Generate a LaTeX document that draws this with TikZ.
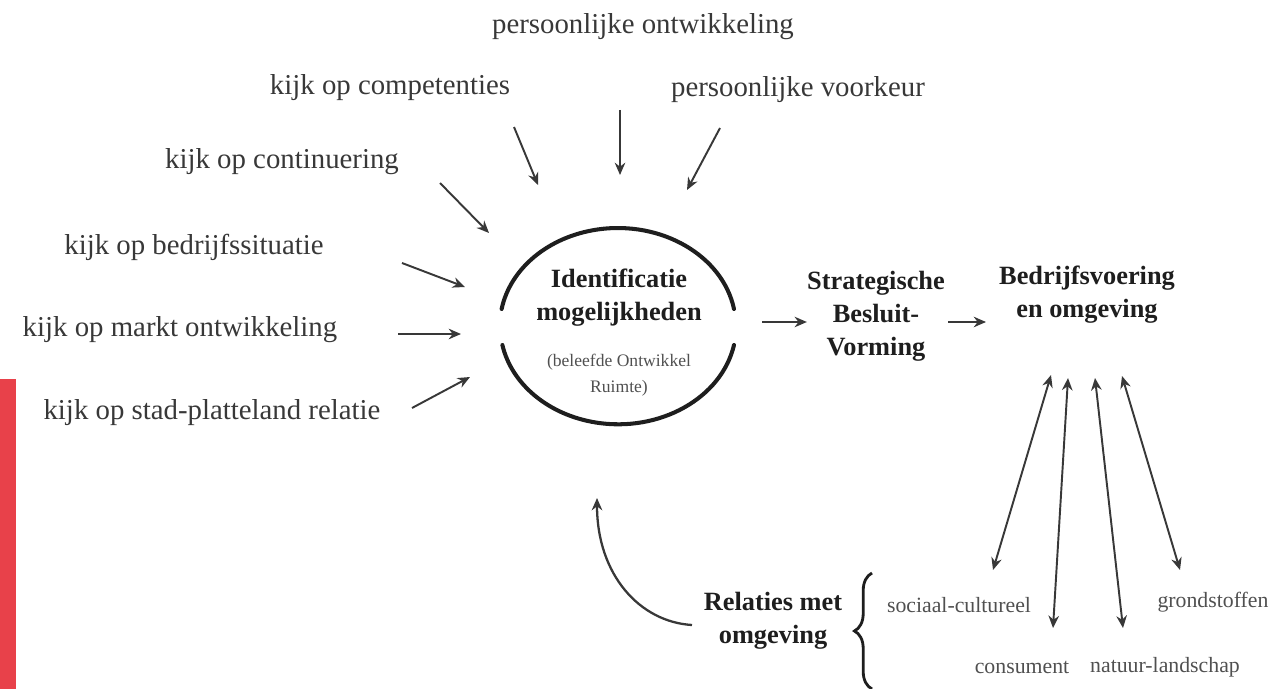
\documentclass[tikz,border=0pt]{standalone}
\usepackage{fontspec}
\setmainfont{Liberation Serif}
\usetikzlibrary{arrows.meta,decorations.pathreplacing}
\definecolor{barred}{HTML}{E8414A}
\definecolor{inkdark}{HTML}{1E1E1E}
\definecolor{inkgrey}{HTML}{383838}
\definecolor{inksoft}{HTML}{505050}
\tikzset{
  factor/.style={font=\fontsize{16.4}{19}\selectfont, text=inkgrey, inner sep=0pt},
  head/.style={font=\fontsize{15}{18.7}\selectfont\bfseries, text=inkdark, align=center, inner sep=0pt},
  aspect/.style={font=\fontsize{12.4}{15}\selectfont, text=inksoft, inner sep=0pt},
  smallnote/.style={font=\fontsize{10}{14.7}\selectfont, text=inksoft, align=center, inner sep=0pt},
  pointer/.style={-{Stealth[length=7pt,width=6pt]}, line width=1.1pt, draw=inkgrey},
  twoway/.style={{Stealth[length=7pt,width=6pt]}-{Stealth[length=7pt,width=6pt]}, line width=1.1pt, draw=inkgrey},
}
\begin{document}
\begin{tikzpicture}[x=0.02cm, y=-0.02cm]
\useasboundingbox (0,0) rectangle (1274,689);
\fill[barred] (0,379) rectangle (16,689);

% factors round the circle
\node[factor] (pers)  at (643,27)  {persoonlijke ontwikkeling};
\node[factor] (comp)  at (390,88)  {kijk op competenties};
\node[factor] (voork) at (798,90)  {persoonlijke voorkeur};
\node[factor] (cont)  at (282,162) {kijk op continuering};
\node[factor] (bedr)  at (194,247) {kijk op bedrijfssituatie};
\node[factor] (markt) at (180,330) {kijk op markt ontwikkeling};
\node[factor] (stad)  at (212,413) {kijk op stad-platteland relatie};

\coordinate (comp-a)  at (514,127); \coordinate (comp-b)  at (538,185);
\coordinate (pers-a)  at (620,110); \coordinate (pers-b)  at (620,175);
\coordinate (voork-a) at (720,128); \coordinate (voork-b) at (687,190);
\coordinate (cont-a)  at (440,183); \coordinate (cont-b)  at (489,233);
\coordinate (bedr-a)  at (402,263); \coordinate (bedr-b)  at (465,287);
\coordinate (markt-a) at (398,334); \coordinate (markt-b) at (461,334);
\coordinate (stad-a)  at (412,408); \coordinate (stad-b)  at (470,377);
\draw[pointer] (comp-a) -- (comp-b);
\draw[pointer] (pers-a) -- (pers-b);
\draw[pointer] (voork-a) -- (voork-b);
\draw[pointer] (cont-a) -- (cont-b);
\draw[pointer] (bedr-a) -- (bedr-b);
\draw[pointer] (markt-a) -- (markt-b);
\draw[pointer] (stad-a) -- (stad-b);

% the open circle
\draw[line width=2.3pt, draw=inkdark, line cap=round] (734,309) arc[start angle=10, end angle=170, x radius=2.36cm, y radius=1.96cm];
\draw[line width=2.3pt, draw=inkdark, line cap=round] (734,345) arc[start angle=-11, end angle=-169, x radius=2.36cm, y radius=1.96cm];
\node[head] (ident) at (619,298) {Identificatie\\mogelijkheden};
\node[smallnote] (belf) at (619,375) {(beleefde Ontwikkel\\Ruimte)};

% decision and business
\node[head] (strat) at (876,316) {Strategische\\Besluit-\\Vorming};
\node[head] (bedrijf) at (1087,295) {Bedrijfsvoering\\en omgeving};
\coordinate (ring-e) at (762,322);
\draw[pointer] (ring-e) -- (strat.west |- ring-e);
\coordinate (strat-e) at (948,322);
\draw[pointer] (strat-e) -- (986,322);

% relations with the surroundings
\node[aspect] (soc)   at (959,605)  {sociaal-cultureel};
\node[aspect] (grond) at (1213,602) {grondstoffen};
\node[aspect] (cons)  at (1022,667) {consument};
\node[aspect] (natuur) at (1165,667) {natuur-landschap};
\coordinate (t1) at (1051,375); \coordinate (e1) at (993,570);
\coordinate (t2) at (1068,378); \coordinate (e2) at (1053,628);
\coordinate (t3) at (1095,378); \coordinate (e3) at (1123,628);
\coordinate (t4) at (1122,376); \coordinate (e4) at (1180,570);
\draw[twoway] (t1) -- (e1);
\draw[twoway] (t2) -- (e2);
\draw[twoway] (t3) -- (e3);
\draw[twoway] (t4) -- (e4);

\node[head] (relat) at (773,621) {Relaties met\\omgeving};
\draw[line width=1.6pt, draw=inkdark, decorate, decoration={brace, amplitude=10pt}] (872,689) -- (872,573);
\coordinate (loop-a) at (692,625);
\coordinate (loop-b) at (597,498);
\draw[pointer, line width=1.3pt] (loop-a) .. controls (640,622) and (597,575) .. (loop-b);
\end{tikzpicture}
\end{document}
